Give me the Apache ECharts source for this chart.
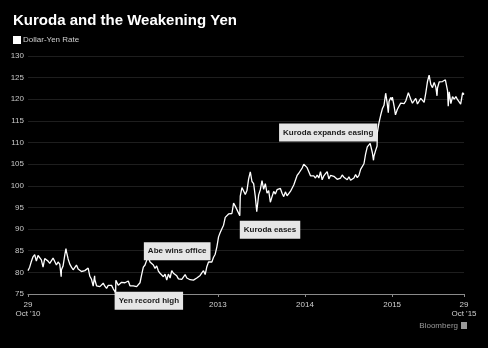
<!DOCTYPE html>
<html><head><meta charset="utf-8">
<script src="https://cdn.jsdelivr.net/npm/echarts@6/dist/echarts.min.js"></script>
<style>html,body{margin:0;padding:0;background:#000}#c{width:488px;height:348px}</style>
</head><body><div id="c"></div>
<script>
const dates = [
'2010-10-29','2010-11-05','2010-11-12','2010-11-19','2010-11-26',
'2010-12-03','2010-12-10','2010-12-17','2010-12-24','2010-12-31',
'2011-01-07','2011-01-14','2011-01-21','2011-01-28',
'2011-02-04','2011-02-11','2011-02-18','2011-02-25',
'2011-03-04','2011-03-11','2011-03-17','2011-03-18','2011-03-25',
'2011-04-01','2011-04-06','2011-04-08','2011-04-15','2011-04-22','2011-04-29',
'2011-05-06','2011-05-13','2011-05-20','2011-05-27',
'2011-06-03','2011-06-10','2011-06-17','2011-06-24',
'2011-07-01','2011-07-08','2011-07-15','2011-07-22','2011-07-29',
'2011-08-04','2011-08-05','2011-08-12','2011-08-19','2011-08-26',
'2011-09-02','2011-09-09','2011-09-16','2011-09-23','2011-09-30',
'2011-10-07','2011-10-14','2011-10-21','2011-10-28','2011-10-31','2011-11-01',
'2011-11-04','2011-11-11','2011-11-18','2011-11-25',
'2011-12-02','2011-12-09','2011-12-16','2011-12-23','2011-12-30',
'2012-01-06','2012-01-13','2012-01-20','2012-01-27',
'2012-02-03','2012-02-10','2012-02-17','2012-02-24',
'2012-03-02','2012-03-09','2012-03-15','2012-03-23','2012-03-30',
'2012-04-06','2012-04-13','2012-04-20','2012-04-27',
'2012-05-04','2012-05-11','2012-05-18','2012-05-25',
'2012-06-01','2012-06-08','2012-06-15','2012-06-22','2012-06-29',
'2012-07-06','2012-07-13','2012-07-20','2012-07-27',
'2012-08-03','2012-08-10','2012-08-17','2012-08-24','2012-08-31',
'2012-09-07','2012-09-14','2012-09-21','2012-09-28',
'2012-10-05','2012-10-12','2012-10-19','2012-10-26',
'2012-11-02','2012-11-09','2012-11-16','2012-11-23','2012-11-30',
'2012-12-07','2012-12-14','2012-12-21','2012-12-28',
'2013-01-04','2013-01-11','2013-01-18','2013-01-25',
'2013-02-01','2013-02-08','2013-02-15','2013-02-22',
'2013-03-01','2013-03-08','2013-03-15','2013-03-22','2013-03-29',
'2013-04-03','2013-04-05','2013-04-12','2013-04-19','2013-04-26',
'2013-05-03','2013-05-10','2013-05-17','2013-05-22','2013-05-24','2013-05-31',
'2013-06-07','2013-06-13','2013-06-21','2013-06-28',
'2013-07-05','2013-07-12','2013-07-19','2013-07-26',
'2013-08-02','2013-08-09','2013-08-16','2013-08-23','2013-08-30',
'2013-09-06','2013-09-13','2013-09-20','2013-09-27',
'2013-10-04','2013-10-11','2013-10-18','2013-10-25',
'2013-11-01','2013-11-08','2013-11-15','2013-11-22','2013-11-29',
'2013-12-06','2013-12-13','2013-12-20','2013-12-27','2013-12-31',
'2014-01-03','2014-01-10','2014-01-17','2014-01-24','2014-01-31',
'2014-02-07','2014-02-14','2014-02-21','2014-02-28',
'2014-03-07','2014-03-14','2014-03-21','2014-03-28',
'2014-04-04','2014-04-11','2014-04-18','2014-04-25',
'2014-05-02','2014-05-09','2014-05-16','2014-05-23','2014-05-30',
'2014-06-06','2014-06-13','2014-06-20','2014-06-27',
'2014-07-04','2014-07-11','2014-07-18','2014-07-25',
'2014-08-01','2014-08-08','2014-08-15','2014-08-22','2014-08-29',
'2014-09-05','2014-09-12','2014-09-19','2014-09-26',
'2014-10-01','2014-10-03','2014-10-10','2014-10-15','2014-10-17','2014-10-24','2014-10-30','2014-10-31',
'2014-11-07','2014-11-14','2014-11-21','2014-11-28',
'2014-12-05','2014-12-08','2014-12-12','2014-12-16','2014-12-19','2014-12-26','2014-12-31',
'2015-01-02','2015-01-09','2015-01-15','2015-01-23','2015-01-30',
'2015-02-06','2015-02-13','2015-02-20','2015-02-27',
'2015-03-06','2015-03-10','2015-03-13','2015-03-20','2015-03-27',
'2015-04-03','2015-04-10','2015-04-17','2015-04-24',
'2015-05-01','2015-05-08','2015-05-15','2015-05-22','2015-05-29',
'2015-06-05','2015-06-12','2015-06-19','2015-06-26',
'2015-07-03','2015-07-08','2015-07-10','2015-07-17','2015-07-24','2015-07-31',
'2015-08-07','2015-08-12','2015-08-14','2015-08-21','2015-08-24','2015-08-28',
'2015-09-04','2015-09-11','2015-09-18','2015-09-25',
'2015-10-02','2015-10-09','2015-10-15','2015-10-23','2015-10-29'
];
const usdJpy = [
80.4,81.2,82.5,83.6,84.1,
82.6,83.9,84.0,82.9,81.2,
83.2,82.8,82.6,82.1,
81.7,83.3,83.2,81.7,
82.4,81.9,79.0,80.6,81.5,
84.0,85.5,84.8,83.1,81.9,81.2,
80.6,80.8,81.7,80.8,
80.4,80.2,80.0,80.4,
80.8,81.0,79.1,78.4,76.8,
79.2,78.3,76.9,76.6,76.7,
76.8,77.5,76.8,76.3,77.0,
76.7,77.0,76.2,75.8,75.3,78.2,
78.2,77.0,76.9,77.7,
77.9,77.6,77.8,78.0,76.9,
76.9,76.9,77.0,76.7,
76.6,77.6,79.5,81.2,
81.7,82.1,83.7,82.4,82.8,
81.7,80.9,81.5,80.3,
79.8,79.9,79.0,79.6,
78.2,79.6,78.7,80.4,79.8,
79.7,79.2,78.5,78.3,
78.4,78.3,79.5,78.7,78.3,
78.3,78.4,78.2,77.9,
78.7,78.3,79.3,79.9,
80.4,79.5,81.3,82.4,82.5,
82.4,83.5,84.2,85.9,
88.2,89.2,90.1,90.9,
92.7,92.7,93.5,93.4,
93.6,96.0,95.3,94.5,94.2,
93.1,97.6,99.6,99.5,98.0,
98.9,101.6,103.2,103.4,101.0,100.5,
97.5,94.0,97.9,99.1,
101.2,99.2,100.5,98.3,
98.9,96.2,97.5,98.7,98.1,
99.1,99.4,99.4,98.3,
97.5,98.6,97.7,97.4,
98.7,99.1,100.2,101.3,102.4,
102.9,103.2,104.1,105.0,105.3,
104.8,104.2,104.3,102.3,102.0,
102.3,101.8,102.5,101.8,
103.3,101.4,102.3,102.8,
103.3,101.6,102.4,102.2,
102.2,101.8,101.5,101.9,101.8,
102.5,102.0,102.0,101.4,
102.1,101.3,101.3,101.8,
102.6,101.9,102.4,103.8,104.1,
105.1,107.4,109.0,109.3,
109.8,109.8,107.7,105.9,106.9,108.2,109.2,112.3,
114.6,116.3,117.8,118.6,
121.4,121.6,118.8,116.9,119.5,120.4,119.8,
120.5,118.5,116.4,117.7,117.5,
119.1,118.7,119.0,119.6,
120.8,121.5,121.4,120.0,119.1,
118.9,120.2,118.9,118.9,
120.2,119.8,119.3,121.5,124.1,
125.6,123.4,122.7,123.9,
122.8,120.8,122.6,124.0,123.8,124.1,
124.2,124.5,124.3,122.0,118.4,121.7,
119.0,120.6,120.0,120.6,
119.9,120.2,118.9,121.5,121.1
];
const yMin = 75, yMax = 130, yStep = 5;
const xStart = '2010-10-29', xEnd = '2015-10-29';
const xTickDates = ['2010-10-29','2013-01-01','2014-01-01','2015-01-01','2015-10-29'];
const xTickLabels = ["29\nOct '10", '2013', '2014', '2015', "29\nOct '15"];
const noteDates = ['2011-10-31','2012-12-14','2013-04-03','2014-10-31'];
const noteValues = [75.3, 83.5, 93.1, 112.3];
const noteTexts = ['Yen record high','Abe wins office','Kuroda eases','Kuroda expands easing'];

const FONT = '"Liberation Sans", Arial, sans-serif';
const ts = s => echarts.number.parseDate(s).getTime();
const tickTimes = xTickDates.map(ts);
const seriesData = dates.map((d, i) => [ts(d), usdJpy[i]]);

const notePlace = [
  {align:'left', verticalAlign:'top', offset:[-1,-1]},
  {align:'right', verticalAlign:'middle', offset:[-3,-6]},
  {align:'left', verticalAlign:'top', offset:[0,5]},
  {align:'right', verticalAlign:'middle', offset:[0,0]}
];

const chart = echarts.init(document.getElementById('c'), null, {renderer:'canvas'});
chart.setOption({
  backgroundColor: '#000',
  animation: false,
  title: {
    text: 'Kuroda and the Weakening Yen',
    left: 13, top: 13, padding: 0,
    textStyle: {color:'#fff', fontSize:15, fontWeight:'bold', fontFamily:FONT}
  },
  graphic: [
    {type:'rect', left:13, top:36, shape:{width:8, height:8}, style:{fill:'#fff'}},
    {type:'text', left:23, top:36, style:{text:'Dollar-Yen Rate', fill:'#cfcfcf', font:'8px ' + FONT}},
    {type:'text', right:30, top:322, style:{text:'Bloomberg', fill:'#9a9a9a', font:'8px ' + FONT}},
    {type:'rect', right:21, top:322, shape:{width:6, height:7}, style:{fill:'#9a9a9a'}}
  ],
  grid: {left:28, right:24, top:56, bottom:54, containLabel:false},
  xAxis: {
    type:'value', min: ts(xStart), max: ts(xEnd),
    axisLine:{show:true, lineStyle:{color:'#8a8a8a', width:1}},
    axisTick:{show:true, customValues: tickTimes, length:3, lineStyle:{color:'#8a8a8a'}},
    axisLabel:{
      customValues: tickTimes, color:'#cfcfcf', fontSize:8, fontFamily:FONT, margin:6, lineHeight:9,
      showMinLabel:true, showMaxLabel:true, hideOverlap:false,
      formatter: v => {
        let best = 0;
        tickTimes.forEach((t, i) => { if (Math.abs(t - v) < Math.abs(tickTimes[best] - v)) best = i; });
        return xTickLabels[best];
      }
    },
    splitLine:{show:false}
  },
  yAxis: {
    type:'value', min:yMin, max:yMax, interval:yStep,
    axisLine:{show:false}, axisTick:{show:false},
    axisLabel:{color:'#c8c8c8', fontSize:8, fontFamily:FONT, margin:4},
    splitLine:{show:true, lineStyle:{color:'#1e1e1e', width:1}}
  },
  series: [{
    name:'Dollar-Yen Rate', type:'line', data: seriesData,
    showSymbol:false, symbol:'none',
    lineStyle:{color:'#fff', width:1.3},
    markPoint: {
      symbol:'circle', symbolSize:0, silent:true,
      data: noteTexts.map((t, i) => ({
        coord:[ts(noteDates[i]), noteValues[i]],
        label:{
          show:true, position:'inside', formatter:t,
          align:notePlace[i].align, verticalAlign:notePlace[i].verticalAlign, offset:notePlace[i].offset,
          backgroundColor:'#e6e6e6', color:'#1a1a1a', fontSize:8, fontWeight:'bold', fontFamily:FONT,
          padding:[5,4,4,4], lineHeight:9
        }
      }))
    }
  }]
});
</script></body></html>
